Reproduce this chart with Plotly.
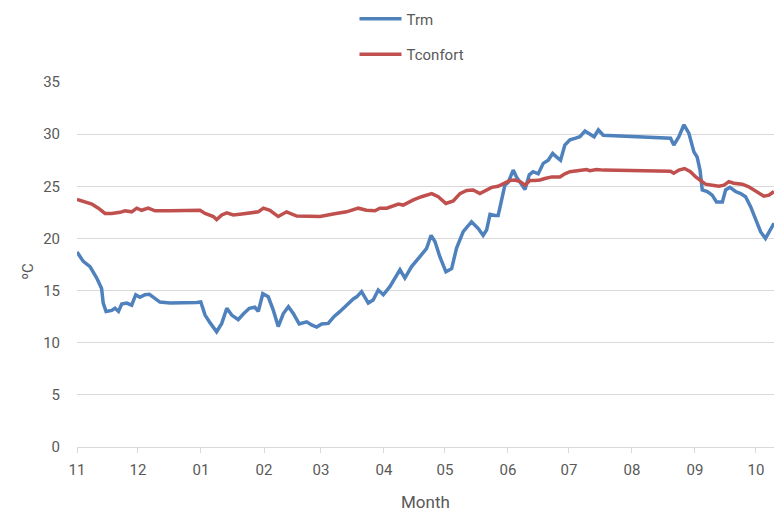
import pandas as pd
import plotly.graph_objects as go

start = "2014-11-01"
x_end_days = 342.9

# Trm: days since 1 Nov, value in ºC
trm_days = [0, 3.1, 6.4, 9.7, 12.1, 12.9, 14.3, 17.1, 18.7, 20.4, 22.0, 24.4, 26.9, 28.9, 31.0,
            33.4, 35.6, 38.4, 40.8, 45.8, 52.3, 58.9, 60.9, 63.0, 65.5, 68.7, 71.2, 73.7, 76.1,
            79.3, 81.8, 84.8, 87.5, 89.2, 91.4, 94.1, 96.6, 99.0, 101.5, 104.0, 106.4, 109.3,
            113.0, 115.4, 117.9, 120.4, 123.6, 126.4, 129.4, 132.6, 135.9, 137.6, 140.0, 143.3,
            145.7, 148.2, 150.7, 154.0, 158.9, 161.3, 164.6, 168.7, 172.0, 174.2, 176.1, 178.5,
            181.5, 184.3, 186.7, 190.0, 194.1, 197.4, 199.8, 201.5, 203.2, 205.6, 207.2, 208.9,
            210.5, 212.2, 214.6, 216.2, 218.8, 220.4, 222.5, 224.4, 226.9, 229.4, 231.8, 234.0,
            236.0, 237.9, 240.0, 242.5, 245.0, 247.4, 249.9, 252.3, 254.4, 256.5, 258.9, 292.0,
            293.6, 296.1, 298.6, 301.0, 303.5, 305.1, 306.5, 307.6, 310.1, 312.5, 314.6, 317.5,
            319.1, 321.2, 324.0, 326.5, 328.9, 331.4, 333.9, 336.3, 338.7, 341.3, 342.9]
trm = [18.7, 17.8, 17.3, 16.2, 15.2, 13.8, 13.0, 13.1, 13.3, 13.0, 13.7, 13.8, 13.6, 14.6, 14.35,
       14.6, 14.65, 14.2, 13.9, 13.8, 13.8, 13.85, 13.9, 12.65, 11.9, 11.05, 11.85, 13.3, 12.65,
       12.2, 12.75, 13.3, 13.4, 13.0, 14.7, 14.4, 13.1, 11.55, 12.8, 13.45, 12.8, 11.8,
       12.0, 11.7, 11.5, 11.8, 11.85, 12.5, 13.0, 13.6, 14.2, 14.4, 14.9, 13.8,
       14.1, 15.05, 14.6, 15.4, 17.0, 16.2, 17.3, 18.25, 19.05, 20.3, 19.7, 18.25,
       16.8, 17.1, 19.05, 20.65, 21.6, 20.95, 20.3, 20.8, 22.3, 22.2, 22.2, 23.7,
       25.1, 25.4, 26.55, 25.9, 25.1, 24.7, 26.1, 26.4, 26.2, 27.2, 27.5, 28.15,
       27.8, 27.5, 28.95, 29.45, 29.6, 29.75, 30.3, 30.0, 29.75, 30.4, 29.9, 29.6,
       28.95, 29.75, 30.9, 30.1, 28.3, 27.8, 26.55, 24.65, 24.5, 24.15, 23.5, 23.5,
       24.65, 24.9, 24.5, 24.3, 24.0, 23.05, 21.75, 20.65, 20.0, 20.95, 21.45]

# Tconfort: days since 1 Nov, value in ºC
conf_days = [0, 3.9, 7.3, 10.5, 13.8, 17.1, 21.2, 23.6, 26.9, 29.4, 31.8, 35.0, 38.4, 45.8, 60.5,
             63.0, 67.1, 68.7, 71.2, 73.7, 76.9, 81.1, 84.3, 89.2, 91.7, 94.9, 99.0, 103.1, 108.1,
             113.0, 119.6, 126.0, 132.6, 138.4, 142.4, 146.6, 149.0, 152.4, 158.1, 160.5, 165.5,
             169.5, 174.5, 177.7, 181.5, 185.1, 188.4, 191.7, 194.9, 198.2, 201.5, 204.0, 207.2,
             210.5, 213.0, 215.4, 218.0, 220.4, 222.8, 225.3, 227.8, 230.2, 233.6, 237.6, 240.0,
             242.5, 246.6, 250.7, 252.3, 255.6, 258.9, 292.0, 293.6, 296.1, 298.9, 301.8, 304.4,
             306.8, 309.2, 312.5, 315.8, 318.3, 320.7, 323.1, 327.3, 330.5, 333.9, 337.9, 340.4,
             342.9]
conf = [23.75, 23.5, 23.3, 22.9, 22.4, 22.4, 22.5, 22.65, 22.55, 22.9, 22.7, 22.9, 22.65, 22.65, 22.7,
        22.4, 22.1, 21.8, 22.25, 22.45, 22.25, 22.35, 22.45, 22.55, 22.9, 22.7, 22.1, 22.55, 22.15,
        22.1, 22.1, 22.35, 22.55, 22.9, 22.7, 22.65, 22.9, 22.9, 23.3, 23.2, 23.7,
        24.0, 24.3, 24.0, 23.35, 23.6, 24.3, 24.6, 24.65, 24.3, 24.65, 24.9, 25.0,
        25.35, 25.55, 25.6, 25.45, 25.1, 25.55, 25.55, 25.6, 25.75, 25.9, 25.9, 26.2,
        26.4, 26.5, 26.6, 26.5, 26.6, 26.55, 26.45, 26.25, 26.55, 26.7, 26.4, 25.9,
        25.55, 25.2, 25.1, 25.0, 25.1, 25.45, 25.3, 25.2, 24.95, 24.5, 24.05, 24.15,
        24.5]

y_ticks = [0, 5, 10, 15, 20, 25, 30, 35]
x_title = "Month"
y_title = "ºC"

t0 = pd.Timestamp(start)
trm_x = t0 + pd.to_timedelta(trm_days, unit="D")
conf_x = t0 + pd.to_timedelta(conf_days, unit="D")
x_end = t0 + pd.to_timedelta(x_end_days, unit="D")

FONT = "Roboto, sans-serif"
GRAY = "#595959"

fig = go.Figure()
fig.add_trace(go.Scatter(x=trm_x, y=trm, mode="lines", name="Trm", legendgroup="a",
                         line=dict(color="#4F81BD", width=3.5)))
fig.add_trace(go.Scatter(x=conf_x, y=conf, mode="lines", name="Tconfort", legendgroup="b",
                         line=dict(color="#C0504D", width=3.5)))

fig.update_layout(
    width=774, height=513,
    margin=dict(l=77, r=0, t=82, b=66, autoexpand=False),
    paper_bgcolor="white", plot_bgcolor="white",
    font=dict(family=FONT, color=GRAY, size=14),
    legend=dict(xref="container", yref="container", x=0.458, y=0.995,
                xanchor="left", yanchor="top", orientation="v",
                traceorder="grouped", tracegroupgap=13, itemwidth=42,
                font=dict(size=15, color=GRAY, family=FONT), bgcolor="rgba(0,0,0,0)"),
    xaxis=dict(
        type="date", range=[t0, x_end], automargin=False,
        tickformat="%m", dtick="M1", tick0=start,
        showgrid=False, showline=True, linecolor="#D9D9D9", linewidth=1,
        ticks="outside", ticklen=5, tickcolor="#D9D9D9",
        tickfont=dict(size=15, color=GRAY), ticklabelstandoff=4,
    ),
    yaxis=dict(
        range=[0, 35], tickvals=y_ticks, automargin=False,
        showgrid=True, gridcolor="#D9D9D9", gridwidth=1,
        zeroline=False, showline=False,
        tickfont=dict(size=15, color=GRAY), ticklabelstandoff=16,
    ),
    annotations=[
        dict(text=x_title, xref="paper", yref="paper", x=0.5, y=-0.1507,
             xanchor="center", yanchor="middle", showarrow=False,
             font=dict(size=17, color=GRAY)),
        dict(text=y_title, xref="paper", yref="paper", x=-0.0703, y=0.48,
             xanchor="center", yanchor="middle", showarrow=False, textangle=-90,
             font=dict(size=15, color=GRAY)),
    ],
)

fig.write_html("out.html")
